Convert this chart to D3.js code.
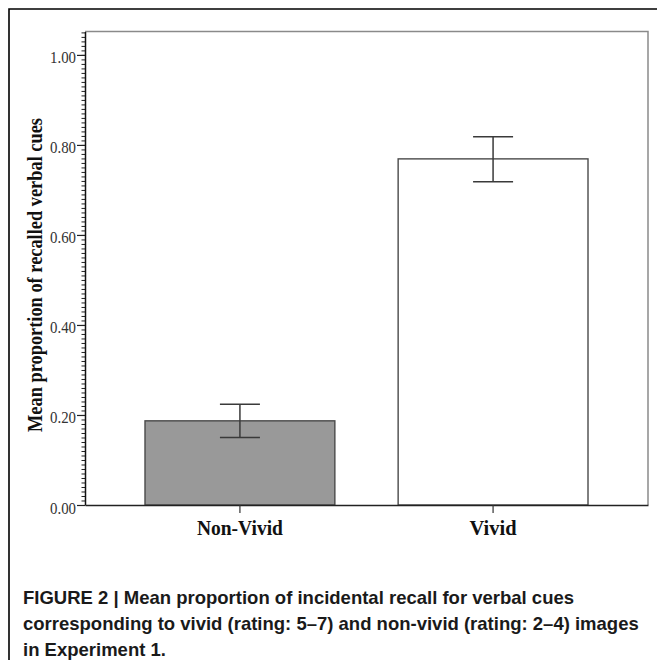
<!DOCTYPE html>
<html>
<head>
<meta charset="utf-8">
<script src="https://cdn.jsdelivr.net/npm/d3@7"></script>
<style>
  body { margin: 0; background: #fff; }
  .tick text { font-family: "Liberation Serif", "Times New Roman", serif; }
</style>
</head>
<body>
<div id="chart"></div>
<script>
// chart values
var categories = ["Non-Vivid", "Vivid"];
var means = [0.187, 0.769];
var errLow = [0.150, 0.718];
var errHigh = [0.224, 0.818];
var barFills = ["#999999", "#ffffff"];
var majorTicks = [0, 0.2, 0.4, 0.6, 0.8, 1.0];
var minorTicks = d3.range(0, 106).map(function (i) { return i / 100; });
var yTitle = "Mean proportion of recalled verbal cues";
var captionLines = [
  "FIGURE 2 | Mean proportion of incidental recall for verbal cues",
  "corresponding to vivid (rating: 5\u20137) and non-vivid (rating: 2\u20134) images",
  "in Experiment 1."
];

var width = 657, height = 660;
var plot = {left: 85, right: 648, top: 31.5, bottom: 505};

var svg = d3.select("#chart").append("svg")
  .attr("width", width)
  .attr("height", height);

// outer frame (only left and top edges show in the crop)
svg.append("path")
  .attr("d", "M9," + height + " L9,9 L" + width + ",9")
  .attr("fill", "none")
  .attr("stroke", "#000")
  .attr("stroke-width", 1.6);

var y = d3.scaleLinear().domain([0, 1.052]).range([plot.bottom, plot.top]);
var x = d3.scaleBand().domain(categories)
  .range([plot.left, plot.right])
  .paddingInner(0.25)
  .paddingOuter(0.237);

// plot frame top/right
svg.append("path")
  .attr("d", "M" + plot.left + "," + plot.top + " L" + plot.right + "," + plot.top + " L" + plot.right + "," + plot.bottom)
  .attr("fill", "none")
  .attr("stroke", "#8a8a8a")
  .attr("stroke-width", 1.5);

// bars
svg.append("g").selectAll("rect")
  .data(categories)
  .enter().append("rect")
  .attr("x", function (d) { return x(d); })
  .attr("y", function (d, i) { return y(means[i]); })
  .attr("width", x.bandwidth())
  .attr("height", function (d, i) { return y(0) - y(means[i]); })
  .attr("fill", function (d, i) { return barFills[i]; })
  .attr("stroke", "#4a4a4a")
  .attr("stroke-width", 1.4);

// error bars
var capHalf = 20;
var err = svg.append("g")
  .attr("stroke", "#3a3a3a")
  .attr("stroke-width", 1.5)
  .attr("fill", "none");
categories.forEach(function (c, i) {
  var cx = x(c) + x.bandwidth() / 2;
  err.append("line").attr("x1", cx).attr("x2", cx)
    .attr("y1", y(errLow[i])).attr("y2", y(errHigh[i]));
  [errLow[i], errHigh[i]].forEach(function (v) {
    err.append("line").attr("x1", cx - capHalf).attr("x2", cx + capHalf)
      .attr("y1", y(v)).attr("y2", y(v));
  });
});

// y axis: minor ticks then major ticks with labels
var minorAxis = svg.append("g")
  .attr("transform", "translate(" + plot.left + ",0)")
  .call(d3.axisLeft(y).tickValues(minorTicks).tickSize(3.5).tickFormat("").tickSizeOuter(0));
minorAxis.select(".domain").remove();
minorAxis.selectAll("line").attr("stroke", "#222");

var majorAxis = svg.append("g")
  .attr("transform", "translate(" + plot.left + ",0)")
  .call(d3.axisLeft(y).tickValues(majorTicks).tickSize(8).tickPadding(1)
    .tickFormat(d3.format(".2f")).tickSizeOuter(0));
majorAxis.select(".domain").attr("stroke", "#111").attr("stroke-width", 1.5);
majorAxis.selectAll("line").attr("stroke", "#222").attr("stroke-width", 1.2);
majorAxis.selectAll("text")
  .attr("dy", null)
  .attr("y", 8)
  .attr("fill", "#333")
  .style("font-size", "16px")
  .attr("textLength", 26)
  .attr("lengthAdjust", "spacingAndGlyphs");

// x axis
var xAxis = svg.append("g")
  .attr("transform", "translate(0," + plot.bottom + ")")
  .call(d3.axisBottom(x).tickSize(8).tickSizeOuter(0).tickPadding(0));
xAxis.select(".domain").attr("stroke", "#222").attr("stroke-width", 1.4);
xAxis.selectAll("line").attr("stroke", "#333").attr("stroke-width", 1.2);
xAxis.selectAll("text")
  .attr("dy", null)
  .attr("y", 30)
  .attr("fill", "#111")
  .style("font-size", "21px")
  .style("font-weight", "bold")
  .attr("textLength", function (d) { return d === "Vivid" ? 47 : 86; })
  .attr("lengthAdjust", "spacingAndGlyphs");

// y title
svg.append("text")
  .attr("transform", "translate(42," + 275 + ") rotate(-90)")
  .attr("text-anchor", "middle")
  .style("font-family", "'Liberation Serif', 'Times New Roman', serif")
  .style("font-weight", "bold")
  .style("font-size", "21px")
  .attr("textLength", 314)
  .attr("lengthAdjust", "spacingAndGlyphs")
  .attr("fill", "#111")
  .text(yTitle);

// caption
svg.append("g").selectAll("text")
  .data(captionLines)
  .enter().append("text")
  .attr("x", 23)
  .attr("y", function (d, i) { return 604 + i * 26; })
  .style("font-family", "'Liberation Sans', Arial, sans-serif")
  .style("font-weight", "bold")
  .style("font-size", "18.5px")
  .attr("fill", "#1a1a1a")
  .text(function (d) { return d; });
</script>
</body>
</html>
